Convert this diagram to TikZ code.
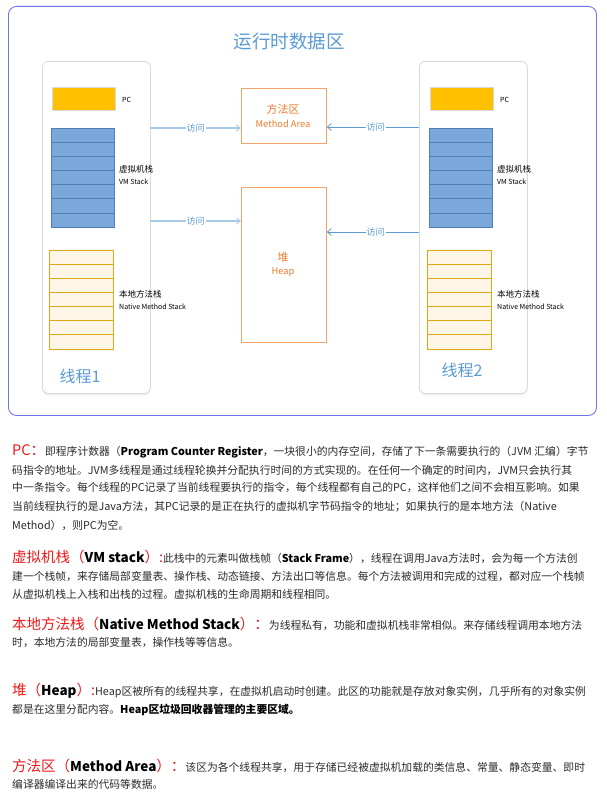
\documentclass[tikz,border=0pt]{standalone}
\usepackage{fontspec}
\setmainfont{Noto Sans CJK SC}
\usetikzlibrary{arrows.meta,shadows}
\definecolor{framecol}{HTML}{7373E6}
\definecolor{titleblue}{HTML}{5B9BD5}
\definecolor{boxgray}{HTML}{D9D9D9}
\definecolor{pcfill}{HTML}{FFC000}
\definecolor{vmfill}{HTML}{7BA7DA}
\definecolor{vmline}{HTML}{4F7FB8}
\definecolor{natfill}{HTML}{FFF6E8}
\definecolor{natline}{HTML}{E1A817}
\definecolor{orangeline}{HTML}{F4A46A}
\definecolor{orangetxt}{HTML}{ED7D31}
\definecolor{arrowlight}{HTML}{A9C8E8}
\definecolor{arrowdark}{HTML}{5B9BD5}
\definecolor{bodytxt}{HTML}{2B2B2B}
\definecolor{headred}{HTML}{F01818}
\newcommand\redhead[1]{{\color{headred}\fontsize{14.5}{17}\selectfont #1}}
\newcommand\boldpart[1]{{\bfseries\color{black}#1}}
\begin{document}
\begin{tikzpicture}[x=1pt,y=-1pt,
  threadbox/.style={draw=boxgray, fill=white, line width=0.8pt, rounded corners=6pt,
    minimum width=108pt, minimum height=332pt, anchor=north west, inner sep=0pt,
    drop shadow={opacity=0.12, shadow xshift=0pt, shadow yshift=-2pt}},
  pcbox/.style={draw=boxgray, fill=pcfill, line width=0.5pt, minimum width=63pt,
    minimum height=23pt, anchor=north west, inner sep=0pt},
  vmbox/.style={draw=vmline, fill=vmfill, line width=0.6pt, minimum width=63pt,
    minimum height=99pt, anchor=north west, inner sep=0pt},
  natbox/.style={draw=natline, fill=natfill, line width=0.8pt, minimum width=64pt,
    minimum height=99pt, anchor=north west, inner sep=0pt},
  sharedbox/.style={draw=orangeline, line width=0.8pt, minimum width=85pt,
    anchor=north west, inner sep=0pt},
  smalllbl/.style={anchor=west, inner sep=0pt, text=black, font=\fontsize{7}{8}\selectfont},
  cnlbl/.style={anchor=west, inner sep=0pt, text=black, font=\fontsize{8.5}{10}\selectfont},
  orlbl/.style={inner sep=0pt, text=orangetxt},
  threadlbl/.style={inner sep=0pt, text=titleblue, font=\fontsize{16}{18}\selectfont},
  acclbl/.style={fill=white, inner sep=1pt, text=arrowdark, font=\fontsize{9}{10}\selectfont},
  lightarrow/.style={draw=arrowlight, line width=1.4pt, -{Straight Barb[length=4pt,width=6pt,line width=0.8pt]}},
  darkarrow/.style={draw=arrowdark, line width=0.8pt, -{Straight Barb[length=4pt,width=7pt]}},
  bodyline/.style={anchor=west, inner sep=0pt, text=bodytxt, font=\fontsize{10.8}{13}\selectfont}
]
\useasboundingbox (0,0) rectangle (607,805);
\fill[white] (0,0) rectangle (607,805);

% outer frame
\node[draw=framecol, line width=0.9pt, rounded corners=8pt, minimum width=588pt,
  minimum height=409pt, anchor=north west, inner sep=0pt] (frame) at (8,6) {};
\node[text=titleblue, inner sep=0pt, font=\fontsize{18.5}{20}\selectfont] (title) at (289,41) {运行时数据区};

% threads
\node[threadbox] (t1) at (42,61) {};
\node[threadbox] (t2) at (419,61) {};

% thread 1 contents
\node[pcbox] (pc1) at (52,87) {};
\node[smalllbl] (pc1l) at (122,100) {PC};
\node[vmbox] (vm1) at (51,128) {};
\foreach \i in {1,...,6} \draw[vmline, line width=0.6pt] (51,128+\i*14.14) -- (114,128+\i*14.14);
\node[cnlbl] (vm1l) at (119,169) {虚拟机栈};
\node[smalllbl] (vm1e) at (119,182) {VM Stack};
\node[natbox] (nat1) at (49,250) {};
\foreach \i in {1,...,6} \draw[natline, line width=0.8pt] (49,250+\i*14.14) -- (113,250+\i*14.14);
\node[cnlbl] (nat1l) at (119,294) {本地方法栈};
\node[smalllbl] (nat1e) at (119,307) {Native Method Stack};
\node[threadlbl] (t1l) at (80,376) {线程1};

% thread 2 contents
\node[pcbox] (pc2) at (430,87) {};
\node[smalllbl] (pc2l) at (500,100) {PC};
\node[vmbox] (vm2) at (429,128) {};
\foreach \i in {1,...,6} \draw[vmline, line width=0.6pt] (429,128+\i*14.14) -- (492,128+\i*14.14);
\node[cnlbl] (vm2l) at (497,169) {虚拟机栈};
\node[smalllbl] (vm2e) at (497,182) {VM Stack};
\node[natbox] (nat2) at (427,250) {};
\foreach \i in {1,...,6} \draw[natline, line width=0.8pt] (427,250+\i*14.14) -- (491,250+\i*14.14);
\node[cnlbl] (nat2l) at (497,294) {本地方法栈};
\node[smalllbl] (nat2e) at (497,307) {Native Method Stack};
\node[threadlbl] (t2l) at (462,370) {线程2};

% shared areas
\node[sharedbox, minimum height=55pt] (ma) at (241,88) {};
\node[orlbl, font=\fontsize{11}{12}\selectfont] (mal) at (283,109) {方法区};
\node[orlbl, font=\fontsize{9.3}{10}\selectfont] (mae) at (283,124) {Method Area};
\node[sharedbox, minimum height=155pt] (heap) at (241,187) {};
\node[orlbl, font=\fontsize{11}{12}\selectfont] (heapl) at (283,257) {堆};
\node[orlbl, font=\fontsize{9.3}{10}\selectfont] (heape) at (283,272) {Heap};

% arrows
\coordinate (a1) at (150,128);
\coordinate (a2) at (419,127);
\coordinate (a3) at (150,221);
\coordinate (a4) at (419,232);
\draw[lightarrow] (a1) -- node[acclbl]{访问} (a1 -| ma.west);
\draw[darkarrow] (a2) -- node[acclbl, pos=0.47]{访问} (a2 -| ma.east);
\draw[lightarrow] (a3) -- node[acclbl]{访问} (a3 -| heap.west);
\draw[darkarrow] (a4) -- node[acclbl, pos=0.47]{访问} (a4 -| heap.east);

% text paragraphs
\node[bodyline] (p1a) at (12,451) {\redhead{PC：}即程序计数器（\boldpart{Program Counter Register}，一块很小的内存空间，存储了下一条需要执行的（JVM 汇编）字节};
\node[bodyline] (p1b) at (12,470) {码指令的地址。JVM多线程是通过线程轮换并分配执行时间的方式实现的。在任何一个确定的时间内，JVM只会执行其};
\node[bodyline] (p1c) at (12,488) {中一条指令。每个线程的PC记录了当前线程要执行的指令，每个线程都有自己的PC，这样他们之间不会相互影响。如果};
\node[bodyline] (p1d) at (12,507) {当前线程执行的是Java方法，其PC记录的是正在执行的虚拟机字节码指令的地址；如果执行的是本地方法（Native};
\node[bodyline] (p1e) at (12,525) {Method），则PC为空。};

\node[bodyline] (p2a) at (12,557) {\redhead{虚拟机栈（}\boldpart{\fontsize{13.5}{16}\selectfont VM stack}\redhead{）:}此栈中的元素叫做栈帧（\boldpart{Stack Frame}），线程在调用Java方法时，会为每一个方法创};
\node[bodyline] (p2b) at (12,576) {建一个栈帧，来存储局部变量表、操作栈、动态链接、方法出口等信息。每个方法被调用和完成的过程，都对应一个栈帧};
\node[bodyline] (p2c) at (12,594) {从虚拟机栈上入栈和出栈的过程。虚拟机栈的生命周期和线程相同。};

\node[bodyline] (p3a) at (12,624) {\redhead{本地方法栈（}\boldpart{\fontsize{13.5}{16}\selectfont Native Method Stack}\redhead{）：}为线程私有，功能和虚拟机栈非常相似。来存储线程调用本地方法};
\node[bodyline] (p3b) at (12,642) {时，本地方法的局部变量表，操作栈等等信息。};

\node[bodyline] (p4a) at (12,691) {\redhead{堆（}\boldpart{\fontsize{13.5}{16}\selectfont Heap}\redhead{）:}Heap区被所有的线程共享，在虚拟机启动时创建。此区的功能就是存放对象实例，几乎所有的对象实例};
\node[bodyline] (p4b) at (12,710) {都是在这里分配内容。\boldpart{Heap区垃圾回收器管理的主要区域。}};

\node[bodyline] (p5a) at (12,766) {\redhead{方法区（}\boldpart{\fontsize{13.5}{16}\selectfont Method Area}\redhead{）：}该区为各个线程共享，用于存储已经被虚拟机加载的类信息、常量、静态变量、即时};
\node[bodyline] (p5b) at (12,784) {编译器编译出来的代码等数据。};
\end{tikzpicture}
\end{document}
